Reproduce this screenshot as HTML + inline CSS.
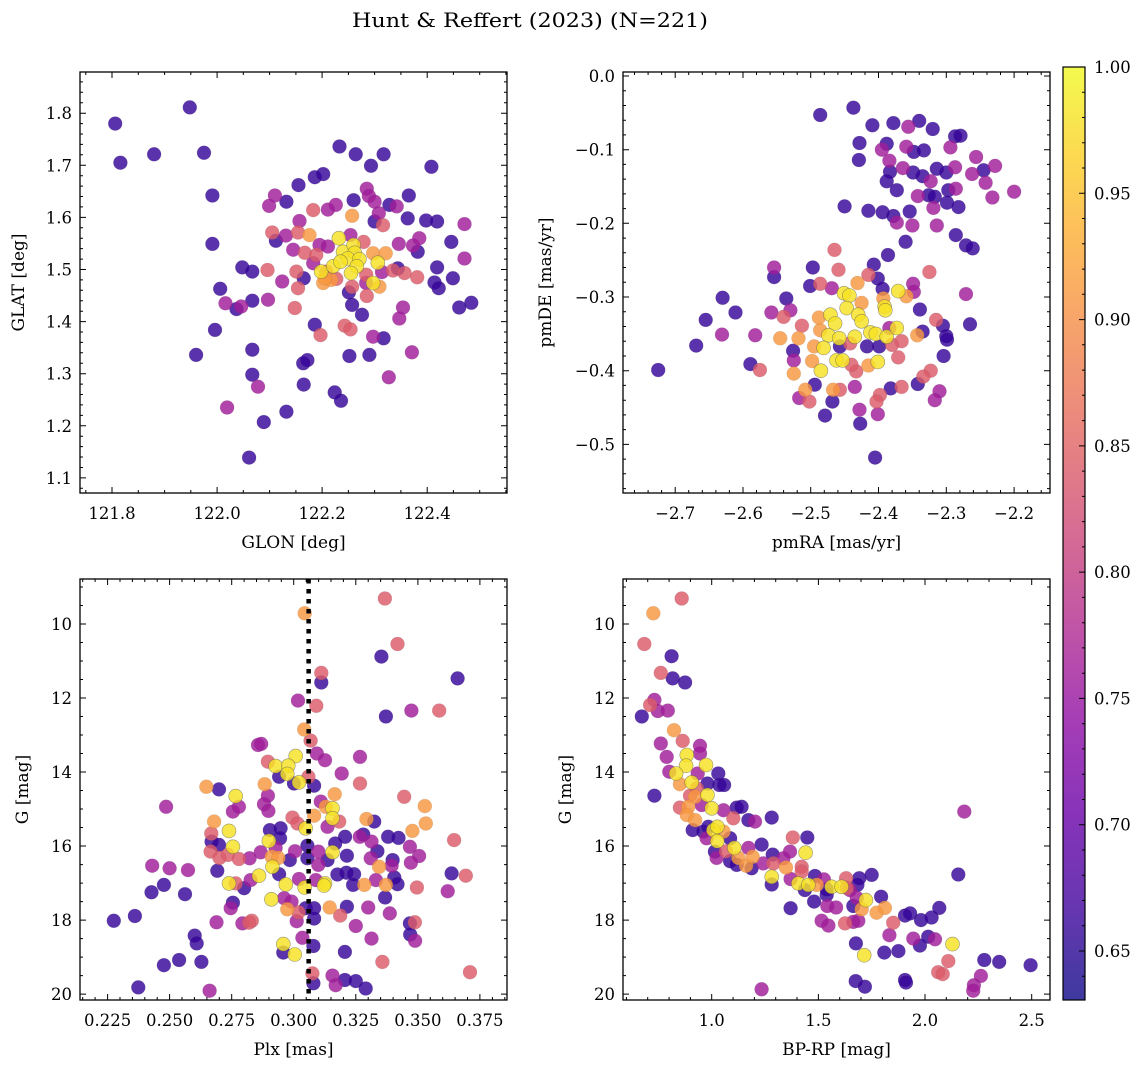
<!DOCTYPE html>
<html><head><meta charset="utf-8"><title>Hunt & Reffert (2023)</title>
<style>
html,body{margin:0;padding:0;background:#fff;}
svg{display:block;font-family:"DejaVu Serif","Liberation Serif",serif;}
</style></head>
<body>
<svg id="fig" width="1148" height="1067" viewBox="0 0 1148 1067" xmlns="http://www.w3.org/2000/svg">
<defs>
<linearGradient id="plasmaGrad" x1="0" y1="1" x2="0" y2="0">
<stop offset="0" stop-color="#0d0887"/><stop offset="0.1" stop-color="#41049d"/><stop offset="0.2" stop-color="#6a00a8"/><stop offset="0.3" stop-color="#8f0da4"/><stop offset="0.4" stop-color="#b12a90"/><stop offset="0.5" stop-color="#cc4778"/><stop offset="0.6" stop-color="#e16462"/><stop offset="0.7" stop-color="#f2844b"/><stop offset="0.8" stop-color="#fca636"/><stop offset="0.9" stop-color="#fcce25"/><stop offset="1" stop-color="#f0f921"/>
</linearGradient>
</defs>
<text x="530" y="27" text-anchor="middle" font-size="19.5" textLength="356" lengthAdjust="spacingAndGlyphs">Hunt &amp; Reffert (2023) (N=221)</text>
</svg>
<script>
// ---- data: top-left (GLON/GLAT)
const glon=[121.806,121.816,121.880,121.948,121.975,121.991,121.991,122.006,122.016,122.037,122.046,122.067,122.048,122.067,122.097,121.996,121.960,122.067,122.067,122.078,122.019,122.089,122.132,122.061,122.165,122.164,122.172,122.186,122.197,122.148,122.165,122.154,122.124,122.096,122.233,122.264,122.317,122.293,122.408,122.186,122.202,122.155,122.110,122.099,122.132,122.183,122.211,122.226,122.260,122.285,122.289,122.300,122.328,122.342,122.365,122.308,122.363,122.398,122.419,122.471,122.446,122.471,122.419,122.449,122.414,122.422,122.461,122.484,122.354,122.347,122.371,122.317,122.297,122.290,122.252,122.327,122.224,122.236,122.243,122.254,122.257,122.276,122.285,122.157,122.131,122.112,122.105,122.154,122.176,122.145,122.167,122.189,122.195,122.211,122.151,122.183,122.202,122.217,122.208,122.198,122.221,122.232,122.240,122.260,122.262,122.249,122.235,122.271,122.266,122.255,122.306,122.297,122.309,122.257,122.254,122.279,122.297,122.321,122.346,122.373,122.385,122.382,122.316,122.300,122.344,122.335,122.357,122.381,122.314,122.284,122.257,122.251,122.284,122.227,122.205];
const glat=[1.780,1.705,1.721,1.811,1.724,1.642,1.549,1.463,1.435,1.424,1.429,1.440,1.504,1.496,1.442,1.384,1.336,1.346,1.298,1.275,1.235,1.207,1.227,1.139,1.279,1.320,1.326,1.394,1.374,1.426,1.483,1.464,1.477,1.499,1.736,1.721,1.721,1.699,1.697,1.677,1.683,1.662,1.642,1.622,1.630,1.614,1.615,1.624,1.633,1.655,1.641,1.630,1.624,1.621,1.642,1.608,1.598,1.594,1.592,1.587,1.553,1.521,1.504,1.483,1.475,1.464,1.427,1.436,1.427,1.406,1.341,1.368,1.371,1.336,1.334,1.293,1.264,1.248,1.392,1.385,1.432,1.413,1.449,1.593,1.565,1.555,1.571,1.571,1.566,1.538,1.532,1.528,1.547,1.544,1.496,1.512,1.474,1.480,1.496,1.496,1.506,1.560,1.534,1.547,1.532,1.521,1.515,1.520,1.506,1.493,1.513,1.474,1.467,1.603,1.566,1.553,1.531,1.531,1.549,1.546,1.560,1.534,1.585,1.592,1.502,1.498,1.493,1.485,1.495,1.490,1.467,1.456,1.474,1.482,1.483];
const probTL=[.66,.66,.66,.66,.66,.66,.66,.66,.76,.66,.76,.66,.66,.66,.76,.66,.66,.66,.66,.76,.76,.66,.66,.66,.66,.66,.66,.66,.84,.84,.66,.84,.76,.84,.66,.66,.66,.66,.66,.66,.66,.66,.76,.76,.66,.84,.76,.76,.66,.76,.76,.76,.66,.76,.66,.76,.66,.66,.66,.76,.66,.76,.66,.66,.66,.66,.66,.66,.76,.76,.76,.66,.76,.66,.66,.76,.66,.66,.84,.84,.66,.66,.84,.76,.76,.66,.84,.84,.91,.76,.84,.84,.76,.76,.84,.76,.91,.91,.84,.98,.98,.98,.98,.98,.98,.98,.98,.98,.98,.98,.98,.98,.91,.91,.76,.84,.91,.91,.76,.76,.76,.66,.84,.66,.66,.84,.84,.84,.76,.84,.84,.66,.76,.84,.91];
// ---- data: top-right (pmRA/pmDE)
const pmra=[-2.725,-2.669,-2.655,-2.631,-2.630,-2.611,-2.589,-2.575,-2.582,-2.558,-2.554,-2.554,-2.536,-2.540,-2.530,-2.545,-2.518,-2.513,-2.497,-2.501,-2.486,-2.465,-2.459,-2.469,-2.486,-2.437,-2.409,-2.378,-2.356,-2.340,-2.320,-2.287,-2.279,-2.428,-2.429,-2.388,-2.395,-2.384,-2.359,-2.348,-2.333,-2.294,-2.383,-2.364,-2.349,-2.335,-2.323,-2.314,-2.300,-2.287,-2.256,-2.262,-2.245,-2.228,-2.242,-2.232,-2.200,-2.388,-2.373,-2.342,-2.326,-2.317,-2.297,-2.286,-2.299,-2.282,-2.319,-2.450,-2.415,-2.394,-2.378,-2.373,-2.354,-2.350,-2.314,-2.286,-2.271,-2.261,-2.360,-2.386,-2.407,-2.415,-2.401,-2.394,-2.349,-2.348,-2.325,-2.271,-2.265,-2.339,-2.335,-2.315,-2.305,-2.300,-2.299,-2.304,-2.323,-2.334,-2.342,-2.310,-2.317,-2.366,-2.382,-2.398,-2.403,-2.401,-2.428,-2.427,-2.405,-2.479,-2.468,-2.457,-2.467,-2.494,-2.508,-2.502,-2.517,-2.525,-2.525,-2.526,-2.498,-2.495,-2.486,-2.488,-2.471,-2.464,-2.451,-2.443,-2.431,-2.447,-2.425,-2.430,-2.425,-2.474,-2.458,-2.481,-2.462,-2.453,-2.485,-2.435,-2.412,-2.404,-2.388,-2.393,-2.391,-2.390,-2.371,-2.359,-2.373,-2.380,-2.366,-2.371,-2.401,-2.415,-2.433,-2.440,-2.435,-2.457,-2.417,-2.399,-2.384,-2.442,-2.343];
const pmde=[-0.399,-0.366,-0.331,-0.351,-0.301,-0.321,-0.391,-0.399,-0.352,-0.321,-0.260,-0.273,-0.302,-0.327,-0.318,-0.356,-0.356,-0.339,-0.260,-0.285,-0.282,-0.236,-0.263,-0.288,-0.053,-0.043,-0.067,-0.064,-0.069,-0.061,-0.072,-0.082,-0.081,-0.091,-0.114,-0.092,-0.100,-0.115,-0.096,-0.103,-0.101,-0.097,-0.130,-0.125,-0.131,-0.136,-0.143,-0.126,-0.131,-0.124,-0.110,-0.133,-0.128,-0.122,-0.145,-0.165,-0.157,-0.143,-0.155,-0.163,-0.162,-0.164,-0.155,-0.153,-0.172,-0.178,-0.179,-0.177,-0.183,-0.185,-0.190,-0.199,-0.184,-0.203,-0.203,-0.216,-0.230,-0.234,-0.225,-0.243,-0.256,-0.270,-0.275,-0.289,-0.282,-0.293,-0.266,-0.296,-0.337,-0.317,-0.347,-0.331,-0.339,-0.353,-0.358,-0.380,-0.400,-0.408,-0.418,-0.428,-0.440,-0.422,-0.424,-0.433,-0.442,-0.459,-0.453,-0.472,-0.518,-0.461,-0.442,-0.426,-0.426,-0.419,-0.426,-0.442,-0.437,-0.404,-0.386,-0.373,-0.387,-0.367,-0.345,-0.328,-0.324,-0.336,-0.295,-0.298,-0.281,-0.315,-0.308,-0.324,-0.333,-0.352,-0.356,-0.369,-0.386,-0.386,-0.400,-0.354,-0.348,-0.350,-0.354,-0.302,-0.313,-0.318,-0.292,-0.299,-0.342,-0.365,-0.360,-0.382,-0.388,-0.393,-0.401,-0.392,-0.422,-0.367,-0.367,-0.367,-0.342,-0.363,-0.352];
const probTR=[.66,.66,.66,.76,.66,.66,.66,.84,.76,.76,.76,.66,.66,.84,.76,.91,.91,.84,.66,.66,.84,.84,.84,.76,.66,.66,.66,.66,.76,.66,.66,.66,.66,.66,.66,.66,.76,.76,.76,.66,.66,.76,.66,.76,.66,.66,.76,.66,.66,.76,.76,.76,.66,.76,.76,.76,.76,.66,.66,.76,.66,.66,.66,.76,.66,.66,.76,.66,.66,.66,.66,.76,.66,.76,.76,.66,.66,.66,.66,.66,.66,.84,.66,.66,.76,.76,.84,.76,.66,.66,.66,.84,.66,.66,.66,.66,.84,.84,.66,.76,.76,.84,.66,.84,.84,.76,.76,.66,.66,.66,.66,.84,.91,.66,.91,.84,.76,.91,.76,.66,.91,.91,.91,.91,.98,.98,.98,.98,.91,.98,.91,.98,.98,.98,.98,.98,.98,.98,.98,.98,.98,.98,.98,.91,.98,.98,.98,.91,.98,.84,.84,.84,.98,.91,.84,.84,.76,.66,.66,.66,.76,.84,.91];
// ---- data: bottom-left (Plx/G)
const plx=[0.3367,0.3044,0.3418,0.3353,0.3111,0.3111,0.3660,0.3017,0.3091,0.3371,0.3474,0.3586,0.3042,0.3068,0.2856,0.2869,0.3008,0.3093,0.3126,0.2896,0.2927,0.2978,0.2974,0.2941,0.3001,0.3021,0.3059,0.3082,0.3193,0.3267,0.3267,0.2883,0.2648,0.2699,0.2766,0.2896,0.2880,0.2898,0.2755,0.2779,0.2486,0.3109,0.3165,0.3129,0.3156,0.3156,0.3082,0.2995,0.3015,0.3048,0.3136,0.3183,0.3293,0.3324,0.3445,0.3528,0.3532,0.3478,0.3646,0.2679,0.2668,0.2739,0.2755,0.2669,0.2699,0.2665,0.2701,0.2735,0.2779,0.2822,0.2867,0.2900,0.2904,0.2947,0.2945,0.2927,0.2911,0.2938,0.2914,0.2984,0.3005,0.3055,0.3055,0.3099,0.3156,0.3136,0.3167,0.3207,0.3214,0.3099,0.3176,0.3212,0.3243,0.3266,0.3280,0.3313,0.3337,0.3310,0.3344,0.3331,0.3371,0.3380,0.3422,0.3468,0.3505,0.3398,0.3394,0.3472,0.3405,0.3418,0.3496,0.3636,0.3693,0.3620,0.2692,0.2430,0.2500,0.2574,0.2427,0.2477,0.2562,0.2739,0.2766,0.2800,0.2826,0.2860,0.2941,0.2968,0.3021,0.3044,0.3089,0.3126,0.3122,0.3239,0.3284,0.3368,0.2755,0.2746,0.2910,0.2961,0.2974,0.3019,0.2991,0.3048,0.3082,0.3145,0.3214,0.3187,0.3082,0.3012,0.3300,0.3387,0.2275,0.2360,0.2689,0.2793,0.2831,0.2820,0.3250,0.3468,0.3488,0.2601,0.2609,0.3035,0.3079,0.3313,0.3469,0.3489,0.2958,0.2958,0.3004,0.3206,0.2477,0.2538,0.2628,0.3357,0.3710,0.3075,0.3156,0.3206,0.3250,0.3169,0.3290,0.3079,0.2374,0.2661];
const gBL=[9.31,9.71,10.54,10.88,11.32,11.58,11.47,12.07,12.21,12.50,12.34,12.34,12.85,13.15,13.27,13.24,13.57,13.50,13.68,13.72,13.84,13.83,14.05,14.13,14.31,14.28,14.13,14.37,14.04,13.59,14.31,14.33,14.40,14.47,14.65,14.64,14.87,15.05,15.07,14.94,14.94,14.80,14.60,14.94,14.98,15.25,15.18,15.23,15.39,15.52,15.48,15.34,15.27,15.34,14.67,14.92,15.39,15.59,15.84,15.34,15.66,15.59,16.02,15.88,15.97,16.15,16.32,16.24,16.35,16.33,16.17,15.86,15.57,15.52,15.79,16.05,16.29,16.32,16.56,16.38,16.14,15.99,16.33,16.15,16.17,16.38,15.93,15.75,16.26,16.51,16.77,16.72,16.76,15.75,15.69,15.88,16.14,16.33,16.56,16.92,17.05,15.75,15.78,16.02,16.27,16.38,16.53,16.45,16.85,17.03,17.12,16.74,16.80,17.22,16.67,16.53,16.60,16.65,17.25,17.05,17.30,17.01,17.01,17.14,16.92,16.80,16.76,17.04,16.89,17.12,16.92,17.01,17.07,17.05,17.05,17.39,17.53,17.68,17.44,17.41,17.71,17.79,17.50,17.68,17.68,17.66,17.64,17.88,17.96,18.03,17.66,17.82,18.02,17.89,18.06,18.09,18.02,18.07,18.16,18.09,18.06,18.42,18.63,18.48,18.70,18.50,18.39,18.56,18.65,18.88,18.93,18.86,19.22,19.08,19.13,19.13,19.41,19.44,19.50,19.62,19.65,19.76,19.85,19.71,19.82,19.91];
const probBL=[.84,.91,.84,.66,.84,.66,.66,.76,.84,.66,.76,.84,.91,.84,.76,.76,.98,.76,.76,.84,.98,.98,.98,.66,.66,.98,.84,.66,.76,.76,.84,.91,.91,.66,.98,.76,.76,.76,.76,.76,.76,.76,.91,.91,.98,.98,.91,.84,.84,.98,.76,.84,.91,.66,.84,.91,.91,.91,.84,.91,.84,.98,.98,.66,.66,.84,.84,.84,.84,.76,.76,.98,.66,.66,.66,.76,.91,.91,.98,.66,.76,.66,.66,.76,.98,.66,.66,.66,.66,.76,.66,.66,.66,.76,.66,.76,.66,.76,.91,.76,.91,.66,.66,.76,.76,.66,.76,.76,.66,.66,.84,.66,.84,.76,.66,.76,.76,.76,.66,.66,.66,.98,.84,.66,.76,.98,.66,.98,.76,.98,.76,.98,.98,.66,.91,.66,.66,.76,.98,.76,.91,.84,.76,.66,.66,.91,.66,.84,.66,.76,.76,.76,.66,.66,.76,.76,.84,.84,.76,.66,.84,.66,.66,.76,.66,.76,.66,.76,.98,.66,.98,.66,.66,.66,.66,.84,.84,.84,.76,.66,.66,.76,.66,.66,.66,.76];
const plxMedian=0.306;
// ---- data: bottom-right (BP-RP/G)
const bprp=[0.859,0.726,0.684,0.812,0.761,0.817,0.875,0.731,0.711,0.747,0.794,0.672,0.823,0.864,0.761,0.945,0.945,0.789,0.883,0.880,0.973,0.801,0.833,0.934,1.031,0.851,0.906,0.980,1.036,1.058,0.930,0.731,0.898,0.922,0.980,0.851,0.890,0.953,1.000,1.055,1.117,1.140,1.101,1.172,1.203,1.281,0.883,0.922,0.911,0.961,0.984,1.008,1.026,1.055,0.976,1.026,1.086,1.015,1.023,1.067,1.106,1.125,1.086,1.117,1.161,1.172,1.192,1.187,1.234,1.242,1.286,1.289,1.281,1.281,1.336,1.367,1.348,1.380,1.448,1.422,1.422,1.370,1.406,1.440,1.484,1.492,1.526,1.453,1.437,1.539,1.539,1.562,1.609,1.630,1.633,1.648,1.692,1.683,1.750,1.480,1.370,1.542,1.583,1.664,1.680,1.723,1.703,1.773,1.812,1.794,1.515,1.547,1.625,1.664,1.687,1.851,1.906,1.930,1.981,2.031,2.067,2.184,2.156,1.676,1.715,1.809,1.833,1.875,1.945,1.976,2.015,2.047,2.129,2.109,2.062,2.083,2.278,2.348,2.495,2.262,2.229,2.226,1.906,1.911,1.675,1.718,1.234];
const gBR=[9.31,9.71,10.54,10.87,11.32,11.47,11.58,12.05,12.19,12.35,12.34,12.50,12.87,13.16,13.23,13.29,13.50,13.59,13.54,13.83,13.81,13.99,14.04,14.04,14.04,14.33,14.28,14.31,14.35,14.35,14.44,14.64,14.64,14.67,14.62,14.96,14.94,14.89,14.98,15.03,14.96,14.94,15.25,15.30,15.34,15.23,15.16,15.30,15.57,15.61,15.48,15.57,15.48,15.61,15.79,15.87,15.79,16.15,16.32,16.14,16.05,16.32,16.41,16.51,16.53,16.05,16.29,16.60,15.96,16.47,16.23,16.47,16.83,17.04,16.33,16.15,16.58,15.77,15.77,16.56,16.69,16.89,17.01,16.18,16.81,17.05,16.90,17.05,17.19,17.17,17.32,17.10,17.10,16.87,17.13,17.19,16.87,17.05,16.78,17.50,17.68,17.62,17.66,17.62,17.40,17.46,17.71,17.80,17.67,17.37,18.02,18.15,18.09,18.05,18.02,18.07,17.88,17.82,18.00,17.93,17.67,15.07,16.77,18.63,18.95,18.88,18.41,18.84,18.50,18.69,18.45,18.52,18.65,19.11,19.41,19.46,19.08,19.13,19.22,19.51,19.76,19.91,19.62,19.69,19.65,19.80,19.87];
const probBR=[.84,.91,.84,.66,.84,.66,.66,.76,.84,.76,.76,.66,.91,.84,.76,.76,.76,.76,.98,.98,.98,.76,.98,.76,.66,.91,.98,.66,.66,.66,.84,.66,.84,.91,.98,.84,.91,.76,.98,.76,.66,.66,.84,.66,.76,.66,.91,.91,.66,.66,.66,.98,.98,.91,.76,.98,.66,.66,.76,.84,.98,.91,.66,.66,.91,.76,.91,.66,.66,.76,.66,.84,.98,.66,.76,.76,.91,.84,.66,.84,.84,.76,.98,.98,.66,.91,.76,.98,.66,.66,.66,.98,.98,.84,.84,.76,.66,.66,.66,.66,.66,.76,.76,.66,.76,.98,.91,.91,.91,.66,.76,.76,.84,.76,.76,.84,.66,.66,.66,.66,.66,.76,.66,.66,.98,.66,.76,.66,.76,.66,.66,.76,.98,.84,.84,.84,.66,.66,.66,.76,.76,.76,.66,.66,.66,.66,.76];
const cbTicks=[0.65,0.70,0.75,0.80,0.85,0.90,0.95,1.00];
const vmin=0.6306, vmax=1.0;

const NS="http://www.w3.org/2000/svg";
const svg=document.getElementById('fig');
const plasma=[[13,8,135],[65,4,157],[106,0,168],[143,13,164],[177,42,144],[204,71,120],[225,100,98],[242,132,75],[252,166,54],[252,206,37],[240,249,33]];
function cmap(v){let t=(v-vmin)/(vmax-vmin);t=Math.max(0,Math.min(1,t))*10;const i=Math.min(9,Math.floor(t)),f=t-i;const a=plasma[i],b=plasma[i+1];return 'rgb('+[0,1,2].map(k=>Math.round(a[k]+(b[k]-a[k])*f)).join(',')+')';}
function el(tag,attrs,parent){const e=document.createElementNS(NS,tag);for(const k in attrs)e.setAttribute(k,attrs[k]);(parent||svg).appendChild(e);return e;}
function range(min,max,step){const out=[];let v=Math.ceil(min/step-1e-9)*step;for(;v<=max+1e-9;v+=step)out.push(+v.toFixed(6));return out;}

function panel(p){
  const g=el('g',{});
  
  
  const sx=v=>p.x0+(v-p.xd[0])/(p.xd[1]-p.xd[0])*(p.x1-p.x0);
  const sy=p.invert?(v=>p.y0+(v-p.yd[0])/(p.yd[1]-p.yd[0])*(p.y1-p.y0)):(v=>p.y1-(v-p.yd[0])/(p.yd[1]-p.yd[0])*(p.y1-p.y0));
  const clip=el('clipPath',{id:p.name+'-clip'},g);
  el('rect',{x:p.x0,y:p.y0,width:p.x1-p.x0,height:p.y1-p.y0},clip);
  const pts=el('g',{'clip-path':'url(#'+p.name+'-clip)'},g);
  
  
  const idx=p.xs.map((_,i)=>i).sort((a,b)=>p.ps[a]-p.ps[b]);
  idx.forEach(i=>{
    const c=el('circle',{cx:sx(p.xs[i]).toFixed(1),cy:sy(p.ys[i]).toFixed(1),r:7,fill:cmap(p.ps[i]),'fill-opacity':0.82,stroke:'#555','stroke-opacity':p.ps[i]>0.95?0.6:0.15,'stroke-width':0.6},pts);
    
    
  });
  if(p.vline!==undefined){
    const l=el('line',{x1:sx(p.vline),x2:sx(p.vline),y1:p.y0,y2:p.y1,stroke:'#000','stroke-width':4.5,'stroke-dasharray':'4.5,5.5'},g);
    
    
  }
  const fr=el('rect',{x:p.x0,y:p.y0,width:p.x1-p.x0,height:p.y1-p.y0,fill:'none',stroke:'#000','stroke-width':1.3},g);
  
  
  let d='';
  range(p.xd[0],p.xd[1],p.xminor).forEach(v=>{const x=sx(v).toFixed(1);d+=`M${x} ${p.y1}v-3M${x} ${p.y0}v3`;});
  range(p.xd[0],p.xd[1],p.xmajor).forEach(v=>{const x=sx(v).toFixed(1);d+=`M${x} ${p.y1}v-6M${x} ${p.y0}v6`;});
  range(p.yd[0],p.yd[1],p.yminor).forEach(v=>{const y=sy(v).toFixed(1);d+=`M${p.x0} ${y}h3M${p.x1} ${y}h-3`;});
  range(p.yd[0],p.yd[1],p.ymajor).forEach(v=>{const y=sy(v).toFixed(1);d+=`M${p.x0} ${y}h6M${p.x1} ${y}h-6`;});
  const tk=el('path',{d:d,stroke:'#000','stroke-width':1,fill:'none'},g);
  
  
  range(p.xd[0],p.xd[1],p.xmajor).forEach(v=>{
    const t=el('text',{x:sx(v).toFixed(1),y:p.y1+26,'text-anchor':'middle','font-size':16.5},g);
    t.textContent=(v<0?'\u2212':'')+Math.abs(v).toFixed(p.xdec);
    
    
  });
  range(p.yd[0],p.yd[1],p.ymajor).forEach(v=>{
    const t=el('text',{x:p.x0-8,y:(sy(v)+6).toFixed(1),'text-anchor':'end','font-size':16.5},g);
    t.textContent=(v<0?'\u2212':'')+Math.abs(v).toFixed(p.ydec);
    
    
  });
  const xl=el('text',{x:(p.x0+p.x1)/2,y:p.y1+55,'text-anchor':'middle','font-size':17},g);
  xl.textContent=p.xlabel;
  
  
  const yc=(p.y0+p.y1)/2;
  const yl=el('text',{x:p.ylx,y:yc,'text-anchor':'middle','font-size':17,transform:`rotate(-90 ${p.ylx} ${yc})`},g);
  yl.textContent=p.ylabel;
  
  
}

panel({name:'glon-glat-panel',x0:80,x1:507,y0:72,y1:493,xd:[121.739,122.552],yd:[1.071,1.879],xs:glon,ys:glat,ps:probTL,xmajor:0.2,xminor:0.05,ymajor:0.1,yminor:0.02,xdec:1,ydec:1,xlabel:'GLON [deg]',ylabel:'GLAT [deg]',ylx:24});
panel({name:'pm-panel',x0:623,x1:1050,y0:72,y1:493,xd:[-2.777,-2.147],yd:[-0.566,0.0054],xs:pmra,ys:pmde,ps:probTR,xmajor:0.1,xminor:0.02,ymajor:0.1,yminor:0.02,xdec:1,ydec:1,xlabel:'pmRA [mas/yr]',ylabel:'pmDE [mas/yr]',ylx:551});
panel({name:'plx-g-panel',x0:80,x1:507,y0:579,y1:1000,xd:[0.2139,0.3859],yd:[8.784,20.16],invert:true,xs:plx,ys:gBL,ps:probBL,xmajor:0.025,xminor:0.005,ymajor:2,yminor:0.5,xdec:3,ydec:0,xlabel:'Plx [mas]',ylabel:'G [mag]',ylx:28,vline:plxMedian});
panel({name:'cmd-panel',x0:623,x1:1050,y0:579,y1:1000,xd:[0.584,2.586],yd:[8.784,20.16],invert:true,xs:bprp,ys:gBR,ps:probBR,xmajor:0.5,xminor:0.1,ymajor:2,yminor:0.5,xdec:1,ydec:0,xlabel:'BP-RP [mag]',ylabel:'G [mag]',ylx:571});

const cb=el('g',{});


const cbx0=1063,cbx1=1085,cby0=67,cby1=1000;
const cbr=el('rect',{x:cbx0,y:cby0,width:cbx1-cbx0,height:cby1-cby0,fill:'url(#plasmaGrad)','fill-opacity':0.8,stroke:'#000','stroke-width':1.2},cb);


const cy=v=>cby1-(v-vmin)/(vmax-vmin)*(cby1-cby0);
let cd='';
range(vmin,vmax,0.01).forEach(v=>{cd+=`M${cbx1} ${cy(v).toFixed(1)}h-3`;});
cbTicks.forEach(v=>{cd+=`M${cbx1} ${cy(v).toFixed(1)}h-6`;});
el('path',{d:cd,stroke:'#000','stroke-width':1,fill:'none'},cb);
cbTicks.forEach(v=>{
  const t=el('text',{x:cbx1+9,y:(cy(v)+6).toFixed(1),'font-size':16.5},cb);
  t.textContent=v.toFixed(2);
  
  
});
</script>
</body></html>
